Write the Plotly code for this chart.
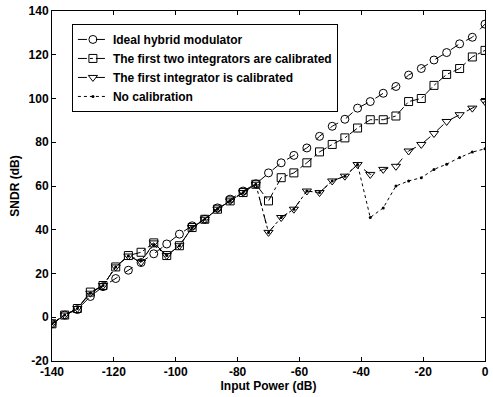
import plotly.graph_objects as go

input_power = [-140, -135.9, -131.8, -127.6, -123.5, -119.4, -115.3, -111.2, -107.1, -102.9,
               -98.8, -94.7, -90.6, -86.5, -82.4, -78.2, -74.1, -70.0, -65.9, -61.8,
               -57.6, -53.5, -49.4, -45.3, -41.2, -37.1, -32.9, -28.8, -24.7, -20.6,
               -16.5, -12.4, -8.2, -4.1, 0]

ideal = [-3, 1, 3.5, 9.5, 14, 17.7, 21.5, 25, 29, 33.5,
         38, 41.8, 44.8, 50, 54, 57.7, 61, 66, 70.6, 74,
         77.4, 82.7, 87.3, 90.5, 95.6, 98.6, 102.4, 105.5, 110.7, 113.7,
         117.6, 121, 125, 128, 134]

two_cal = [-3, 1, 4, 11.5, 14.5, 23, 28.2, 29.7, 34, 28.2,
           32.7, 41, 44.8, 49.4, 53.2, 57, 60.8, 53.2, 63.8, 66,
           70.6, 75.6, 79, 82, 86.5, 90.3, 90.3, 92, 98.6, 100,
           106, 111, 113.7, 119, 122]

one_cal = [-3, 1, 4, 11, 14.5, 23, 28, 25.2, 34, 28.2,
           32.7, 41, 44.8, 49.4, 53.2, 57, 60.8, 38.8, 45.6, 49.4,
           57.7, 57, 62.3, 64.5, 69.8, 65.3, 67.6, 69, 76, 79,
           84, 89.5, 92.6, 95.6, 98.6]

no_cal = [-3, 1, 4, 11, 14.5, 23, 28, 26, 33, 28.2,
          32.7, 41, 44.8, 49.4, 53.2, 57, 60.8, 38.8, 45.6, 49.4,
          57.7, 57, 62.3, 64.5, 69.8, 45.6, 50, 60, 62.3, 63.8,
          67.6, 70, 73, 75.5, 77]

series_names = ["Ideal hybrid modulator",
                "The first two integrators are calibrated",
                "The first integrator is calibrated",
                "No calibration"]

x_ticks = [-140, -120, -100, -80, -60, -40, -20, 0]
x_tick_labels = ["-140", "-120", "-100", "-80", "-60", "-40", "-20", "0"]
y_ticks = [-20, 0, 20, 40, 60, 80, 100, 120, 140]
y_tick_labels = ["-20", "0", "20", "40", "60", "80", "100", "120", "140"]

font = dict(family="Liberation Sans, Arial, sans-serif", size=12, color="black", weight="bold")

fig = go.Figure()
fig.add_trace(go.Scatter(x=input_power, y=ideal, name=series_names[0], mode="lines+markers",
                         line=dict(color="black", width=1, dash="dash"),
                         marker=dict(symbol="circle-open", size=8, color="black", line=dict(width=1))))
fig.add_trace(go.Scatter(x=input_power, y=two_cal, name=series_names[1], mode="lines+markers",
                         line=dict(color="black", width=1, dash="dashdot"),
                         marker=dict(symbol="square-open", size=8, color="black", line=dict(width=1))))
fig.add_trace(go.Scatter(x=input_power, y=one_cal, name=series_names[2], mode="lines+markers",
                         line=dict(color="black", width=1, dash="dash"),
                         marker=dict(symbol="triangle-down-open", size=8, color="black", line=dict(width=1))))
fig.add_trace(go.Scatter(x=input_power, y=no_cal, name=series_names[3], mode="lines+markers",
                         line=dict(color="black", width=1, dash="dot"),
                         marker=dict(symbol="circle", size=3, color="black")))

axis_common = dict(showgrid=False, zeroline=False, showline=True, linecolor="black", linewidth=1,
                   mirror="ticks", ticks="inside", ticklen=4, tickcolor="black",
                   tickfont=font, title_font=font)

fig.update_layout(
    width=493, height=397,
    margin=dict(l=52, r=4, t=8, b=36),
    paper_bgcolor="white", plot_bgcolor="white",
    font=font,
    xaxis=dict(range=[-140, 0], tickvals=x_ticks, ticktext=x_tick_labels,
               title=dict(text="Input Power (dB)", standoff=3), **axis_common),
    yaxis=dict(range=[-20, 140], tickvals=y_ticks, ticktext=y_tick_labels,
               title=dict(text="SNDR (dB)", standoff=6), **axis_common),
    legend=dict(x=0.046, y=0.963, xanchor="left", yanchor="top", bgcolor="white",
                bordercolor="black", borderwidth=1, font=font, tracegroupgap=0,
                itemwidth=30),
    showlegend=True,
)

fig.write_html("out.html")
